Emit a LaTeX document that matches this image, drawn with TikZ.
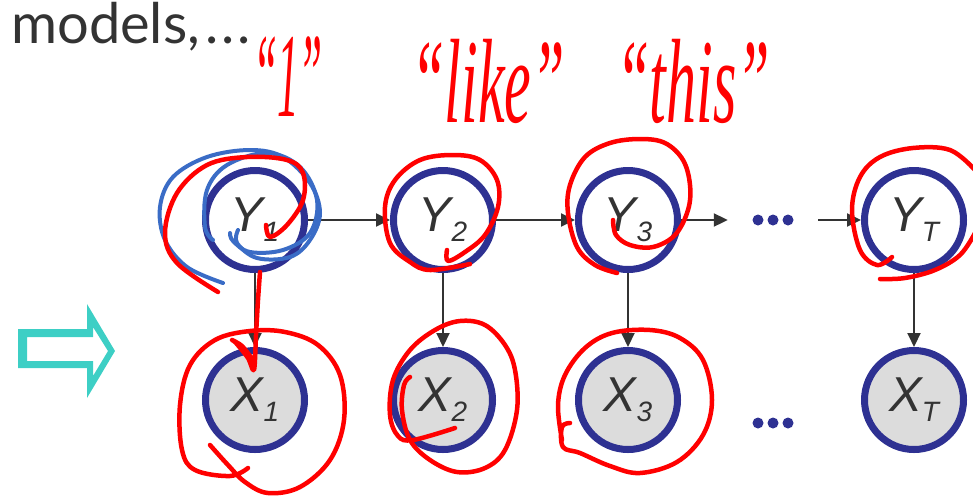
\documentclass[tikz,border=0pt]{standalone}
\usepackage{fontspec}
\setmainfont{Liberation Sans}
\newfontfamily\latofont{Lato}
\newfontfamily\handfont{Liberation Serif}
\usetikzlibrary{arrows.meta}
\definecolor{navy}{HTML}{2E3192}
\definecolor{nodegray}{HTML}{DCDCDC}
\definecolor{ink}{HTML}{333333}
\definecolor{tealarrow}{HTML}{3DCFC5}
\definecolor{pen}{HTML}{FF0000}
\definecolor{bluepen}{HTML}{3A6CC6}
\newcommand{\nsub}[1]{\raisebox{-10pt}{\fontsize{28}{28}\selectfont #1}}
\begin{document}
\begin{tikzpicture}[x=1pt,y=-1pt,
  hidden/.style={circle,draw=navy,line width=7pt,minimum size=99pt,inner sep=0pt,fill=white,text=ink,font=\fontsize{49}{58}\selectfont\itshape},
  observed/.style={hidden,fill=nodegray},
  dotsbox/.style={minimum width=90pt,minimum height=12pt,inner sep=0pt},
  arr/.style={draw=ink,line width=2pt,-{Triangle[length=14pt,width=13pt]}},
  redpen/.style={draw=pen,line width=4.5pt,line cap=round,line join=round},
  bluestroke/.style={draw=bluepen,line width=4pt,line cap=round,line join=round},
  handtext/.style={text=pen,font=\handfont\itshape\fontsize{60}{60}\selectfont,yscale=2,inner sep=0pt,anchor=base}
]
\useasboundingbox (0,0) rectangle (973,496);

% title
\node[anchor=base west,inner sep=0pt,text=ink,font=\latofont\fontsize{56}{64}\selectfont] (title) at (11,43) {models,\kern5pt.\kern3pt.\kern3pt.};

% teal outline arrow
\fill[tealarrow,even odd rule]
  (18,329) -- (87,329) -- (87,304) -- (115,351) -- (87,398) -- (87,368) -- (18,368) -- cycle
  (27,337) -- (93,337) -- (93,327) -- (108,351) -- (93,376) -- (93,361) -- (27,361) -- cycle;

% nodes
\node[hidden] (Y1) at (255,220) {Y\nsub{1}};
\node[hidden] (Y2) at (443,220) {Y\nsub{2}};
\node[hidden] (Y3) at (628,220) {Y\nsub{3}};
\node[hidden] (YT) at (914,220) {Y\nsub{T}};
\node[observed] (X1) at (255,400) {X\nsub{1}};
\node[observed] (X2) at (443,400) {X\nsub{2}};
\node[observed] (X3) at (628,400) {X\nsub{3}};
\node[observed] (XT) at (914,400) {X\nsub{T}};
\node[dotsbox] (dtop) at (773,220) {};
\node[dotsbox] (dbot) at (773,423) {};
\foreach \d in {dtop,dbot}{
  \foreach \dx in {-15,0,15}{
    \fill[navy] ([xshift=\dx pt]\d.center) circle (5.5pt);
  }
}

% connectors
\draw[arr] (Y1) -- (Y2);
\draw[arr] (Y2) -- (Y3);
\draw[arr] (Y3) -- (dtop);
\draw[arr] (dtop) -- (YT);
\draw[arr] (Y1) -- (X1);
\draw[arr] (Y2) -- (X2);
\draw[arr] (Y3) -- (X3);
\draw[arr] (YT) -- (XT);

% blue scribbles around Y1
\draw[bluestroke] plot[smooth,tension=0.6] coordinates {(238,230) (237,243) (257,258) (290,257) (310,240) (320,213) (310,183) (283,157) (250,150) (207,157) (173,177) (160,207) (165,240) (187,267) (223,283)};
\draw[bluestroke] plot[smooth,tension=0.6] coordinates {(230,233) (233,241) (250,252) (283,250) (310,233) (317,200) (300,167) (267,153) (227,165) (207,190) (205,227) (213,240)};

% red annotations
\draw[redpen] plot[smooth,tension=0.6] coordinates {(266,225) (270,237) (287,225) (303,200) (303,173) (287,160) (247,157) (207,165) (177,193) (165,233) (177,263) (218,292)};
\draw[redpen] plot[smooth,tension=0.5] coordinates {(260,272) (258,300) (256,335) (254,370) (248,358) (236,343) (232,340) (242,346) (253,360)};
\draw[redpen] plot[smooth,tension=0.6] coordinates {(210,445) (228,465) (245,482) (268,493) (300,487) (330,460) (344,420) (340,375) (318,345) (285,332) (250,331) (215,340) (190,365) (180,405) (182,450) (195,470) (230,476) (248,468)};
\draw[redpen] plot[smooth,tension=0.6] coordinates {(447,250) (448,261) (465,252) (485,235) (498,207) (497,180) (480,160) (453,155) (420,160) (395,180) (385,207) (390,243) (410,262) (430,270) (470,264)};
\draw[redpen] plot[smooth,tension=0.6] coordinates {(613,220) (616,235) (630,245) (653,247) (675,235) (688,210) (690,185) (683,160) (665,143) (640,139) (610,143) (585,157) (570,185) (568,213) (577,247) (595,265) (617,273)};
\draw[redpen] plot[smooth,tension=0.6] coordinates {(410,377) (404,385) (402,410) (410,440) (430,460) (457,472) (485,468) (505,450) (517,410) (515,370) (505,345) (485,325) (460,321) (435,330) (410,350) (393,380) (390,415) (398,436) (413,440) (455,428)};
\draw[redpen] plot[smooth,tension=0.6] coordinates {(570,423) (562,427) (563,447) (580,453) (610,466) (640,473) (677,462) (703,435) (712,400) (703,360) (680,338) (650,330) (612,333) (585,348) (565,375) (558,405) (562,440)};
\draw[redpen] plot[smooth,tension=0.6] coordinates {(892,257) (877,265) (860,250) (852,210) (860,177) (880,157) (913,148) (950,150) (975,170)};
\draw[redpen] plot[smooth,tension=0.6] coordinates {(975,233) (960,255) (935,270) (905,278) (880,279)};

% handwritten words
\node[handtext,xscale=0.72] (w1) at (288,116) {“1”};
\node[handtext] (w2) at (488,122) {“like”};
\node[handtext] (w3) at (693,122) {“this”};
\end{tikzpicture}
\end{document}
